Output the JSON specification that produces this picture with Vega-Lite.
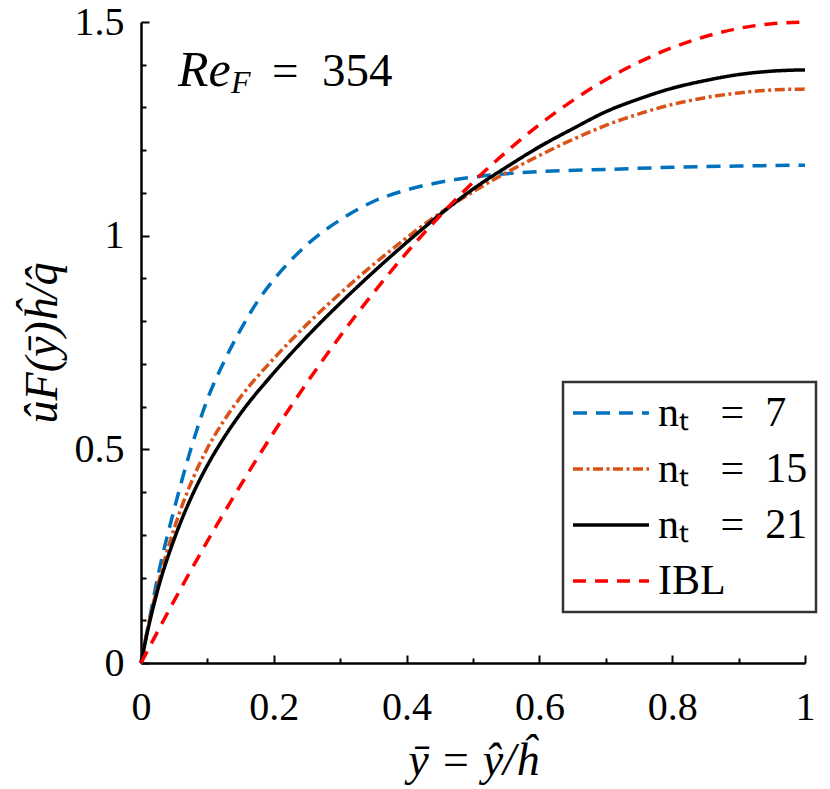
{
  "$schema": "https://vega.github.io/schema/vega-lite/v6.json",
  "width": 664,
  "height": 641,
  "autosize": {"type": "none"},
  "padding": {"left": 141, "top": 22, "right": 25, "bottom": 126},
  "background": "white",
  "config": {
    "view": {"stroke": null},
    "font": "Liberation Serif",
    "axis": {
      "grid": false,
      "domainColor": "black",
      "domainWidth": 2.5,
      "tickColor": "black",
      "tickWidth": 2,
      "labelFont": "Liberation Serif",
      "labelFontSize": 40,
      "labelColor": "black",
      "labelOverlap": false,
      "labelFlush": false,
      "titleFont": "Liberation Serif",
      "titleFontSize": 46,
      "titleFontStyle": "italic",
      "titleFontWeight": "normal",
      "titleColor": "black"
    },
    "legend": {
      "strokeColor": "#333333",
      "strokeWidth": 2.5,
      "fillColor": "white"
    }
  },
  "datasets": {
    "profiles": [
      {"series": "nₜ = 7", "ybar": 0, "u": 0},
      {"series": "nₜ = 7", "ybar": 0.01, "u": 0.08},
      {"series": "nₜ = 7", "ybar": 0.025, "u": 0.2},
      {"series": "nₜ = 7", "ybar": 0.05, "u": 0.36},
      {"series": "nₜ = 7", "ybar": 0.075, "u": 0.5},
      {"series": "nₜ = 7", "ybar": 0.1, "u": 0.617},
      {"series": "nₜ = 7", "ybar": 0.125, "u": 0.705},
      {"series": "nₜ = 7", "ybar": 0.15, "u": 0.78},
      {"series": "nₜ = 7", "ybar": 0.175, "u": 0.845},
      {"series": "nₜ = 7", "ybar": 0.2, "u": 0.897},
      {"series": "nₜ = 7", "ybar": 0.25, "u": 0.979},
      {"series": "nₜ = 7", "ybar": 0.3, "u": 1.037},
      {"series": "nₜ = 7", "ybar": 0.35, "u": 1.08},
      {"series": "nₜ = 7", "ybar": 0.4, "u": 1.107},
      {"series": "nₜ = 7", "ybar": 0.45, "u": 1.125},
      {"series": "nₜ = 7", "ybar": 0.5, "u": 1.137},
      {"series": "nₜ = 7", "ybar": 0.55, "u": 1.145},
      {"series": "nₜ = 7", "ybar": 0.6, "u": 1.15},
      {"series": "nₜ = 7", "ybar": 0.7, "u": 1.155},
      {"series": "nₜ = 7", "ybar": 0.8, "u": 1.16},
      {"series": "nₜ = 7", "ybar": 0.9, "u": 1.163},
      {"series": "nₜ = 7", "ybar": 1, "u": 1.165},
      {"series": "nₜ = 15", "ybar": 0, "u": 0},
      {"series": "nₜ = 15", "ybar": 0.01, "u": 0.08},
      {"series": "nₜ = 15", "ybar": 0.025, "u": 0.18},
      {"series": "nₜ = 15", "ybar": 0.05, "u": 0.315},
      {"series": "nₜ = 15", "ybar": 0.075, "u": 0.42},
      {"series": "nₜ = 15", "ybar": 0.1, "u": 0.5025},
      {"series": "nₜ = 15", "ybar": 0.125, "u": 0.5675},
      {"series": "nₜ = 15", "ybar": 0.15, "u": 0.6225},
      {"series": "nₜ = 15", "ybar": 0.2, "u": 0.7125},
      {"series": "nₜ = 15", "ybar": 0.25, "u": 0.7925},
      {"series": "nₜ = 15", "ybar": 0.3, "u": 0.865},
      {"series": "nₜ = 15", "ybar": 0.35, "u": 0.9325},
      {"series": "nₜ = 15", "ybar": 0.4, "u": 0.995},
      {"series": "nₜ = 15", "ybar": 0.45, "u": 1.0525},
      {"series": "nₜ = 15", "ybar": 0.5, "u": 1.1025},
      {"series": "nₜ = 15", "ybar": 0.55, "u": 1.1475},
      {"series": "nₜ = 15", "ybar": 0.6, "u": 1.1875},
      {"series": "nₜ = 15", "ybar": 0.65, "u": 1.225},
      {"series": "nₜ = 15", "ybar": 0.7, "u": 1.258},
      {"series": "nₜ = 15", "ybar": 0.75, "u": 1.285},
      {"series": "nₜ = 15", "ybar": 0.8, "u": 1.307},
      {"series": "nₜ = 15", "ybar": 0.85, "u": 1.323},
      {"series": "nₜ = 15", "ybar": 0.9, "u": 1.334},
      {"series": "nₜ = 15", "ybar": 0.95, "u": 1.341},
      {"series": "nₜ = 15", "ybar": 1, "u": 1.343},
      {"series": "nₜ = 21", "ybar": 0, "u": 0},
      {"series": "nₜ = 21", "ybar": 0.01, "u": 0.075},
      {"series": "nₜ = 21", "ybar": 0.025, "u": 0.17},
      {"series": "nₜ = 21", "ybar": 0.05, "u": 0.29},
      {"series": "nₜ = 21", "ybar": 0.075, "u": 0.385},
      {"series": "nₜ = 21", "ybar": 0.1, "u": 0.4625},
      {"series": "nₜ = 21", "ybar": 0.125, "u": 0.5275},
      {"series": "nₜ = 21", "ybar": 0.15, "u": 0.584},
      {"series": "nₜ = 21", "ybar": 0.2, "u": 0.679},
      {"series": "nₜ = 21", "ybar": 0.25, "u": 0.764},
      {"series": "nₜ = 21", "ybar": 0.3, "u": 0.842},
      {"series": "nₜ = 21", "ybar": 0.35, "u": 0.915},
      {"series": "nₜ = 21", "ybar": 0.4, "u": 0.984},
      {"series": "nₜ = 21", "ybar": 0.45, "u": 1.049},
      {"series": "nₜ = 21", "ybar": 0.5, "u": 1.109},
      {"series": "nₜ = 21", "ybar": 0.55, "u": 1.16},
      {"series": "nₜ = 21", "ybar": 0.6, "u": 1.208},
      {"series": "nₜ = 21", "ybar": 0.65, "u": 1.25},
      {"series": "nₜ = 21", "ybar": 0.7, "u": 1.29},
      {"series": "nₜ = 21", "ybar": 0.75, "u": 1.32},
      {"series": "nₜ = 21", "ybar": 0.8, "u": 1.345},
      {"series": "nₜ = 21", "ybar": 0.85, "u": 1.363},
      {"series": "nₜ = 21", "ybar": 0.9, "u": 1.377},
      {"series": "nₜ = 21", "ybar": 0.95, "u": 1.385},
      {"series": "nₜ = 21", "ybar": 1, "u": 1.388},
      {"series": "IBL", "ybar": 0, "u": 0},
      {"series": "IBL", "ybar": 0.05, "u": 0.146},
      {"series": "IBL", "ybar": 0.1, "u": 0.285},
      {"series": "IBL", "ybar": 0.15, "u": 0.416},
      {"series": "IBL", "ybar": 0.2, "u": 0.54},
      {"series": "IBL", "ybar": 0.25, "u": 0.656},
      {"series": "IBL", "ybar": 0.3, "u": 0.765},
      {"series": "IBL", "ybar": 0.35, "u": 0.866},
      {"series": "IBL", "ybar": 0.4, "u": 0.96},
      {"series": "IBL", "ybar": 0.45, "u": 1.046},
      {"series": "IBL", "ybar": 0.5, "u": 1.125},
      {"series": "IBL", "ybar": 0.55, "u": 1.196},
      {"series": "IBL", "ybar": 0.6, "u": 1.26},
      {"series": "IBL", "ybar": 0.65, "u": 1.316},
      {"series": "IBL", "ybar": 0.7, "u": 1.365},
      {"series": "IBL", "ybar": 0.75, "u": 1.406},
      {"series": "IBL", "ybar": 0.8, "u": 1.44},
      {"series": "IBL", "ybar": 0.85, "u": 1.466},
      {"series": "IBL", "ybar": 0.9, "u": 1.485},
      {"series": "IBL", "ybar": 0.95, "u": 1.496},
      {"series": "IBL", "ybar": 1, "u": 1.5}
    ],
    "note": [{"ybar": 0.0557, "u": 1.35}]
  },
  "layer": [
    {
      "data": {"name": "profiles"},
      "mark": {"type": "line", "strokeWidth": 3.5, "interpolate": "monotone"},
      "encoding": {
        "x": {
          "field": "ybar",
          "type": "quantitative",
          "scale": {"domain": [0, 1], "nice": false},
          "axis": {
            "title": "ȳ = ŷ/ĥ",
            "values": [0, 0.05, 0.1, 0.15, 0.2, 0.25, 0.3, 0.35, 0.4, 0.45, 0.5, 0.55, 0.6, 0.65, 0.7, 0.75, 0.8, 0.85, 0.9, 0.95, 1],
            "labelExpr": "round(datum.value * 20) % 4 == 0 ? format(datum.value, '~g') : ''",
            "tickSize": {"condition": {"test": "round(datum.value * 20) % 4 == 0", "value": -8}, "value": -5},
            "labelPadding": 32,
            "titlePadding": 8
          }
        },
        "y": {
          "field": "u",
          "type": "quantitative",
          "scale": {"domain": [0, 1.5], "nice": false},
          "axis": {
            "title": "ûF(ȳ)ĥ/q̂",
            "values": [0, 0.1, 0.2, 0.3, 0.4, 0.5, 0.6, 0.7, 0.8, 0.9, 1, 1.1, 1.2, 1.3, 1.4, 1.5],
            "labelExpr": "round(datum.value * 10) % 5 == 0 ? format(datum.value, '~g') : ''",
            "tickSize": {"condition": {"test": "round(datum.value * 10) % 5 == 0", "value": -8}, "value": -5},
            "labelPadding": 25,
            "titlePadding": 8
          }
        },
        "color": {
          "field": "series",
          "type": "nominal",
          "scale": {
            "domain": ["nₜ = 7", "nₜ = 15", "nₜ = 21", "IBL"],
            "range": ["#0072BD", "#D95319", "#000000", "#FF0000"]
          },
          "legend": {
            "title": null,
            "orient": "none",
            "legendX": 422,
            "legendY": 360,
            "padding": 8,
            "symbolType": "stroke",
            "symbolSize": 5776,
            "symbolStrokeWidth": 3.5,
            "clipHeight": 46,
            "rowPadding": 10,
            "labelOffset": 7,
            "labelFont": "Liberation Serif",
            "labelFontSize": 42,
            "labelColor": "black",
            "labelLimit": 400,
            "labelExpr": "replace(datum.label, / = /, '\u2002 =\u2002')"
          }
        },
        "strokeDash": {
          "field": "series",
          "type": "nominal",
          "scale": {
            "domain": ["nₜ = 7", "nₜ = 15", "nₜ = 21", "IBL"],
            "range": [[14, 9], [10, 3.5, 3, 3.5], [1, 0], [13, 9]]
          },
          "legend": {"title": null}
        }
      }
    },
    {
      "data": {"name": "note"},
      "mark": {"type": "text", "text": "Re", "font": "Liberation Serif", "fontStyle": "italic", "fontSize": 50, "align": "left", "baseline": "alphabetic", "color": "black"},
      "encoding": {
        "x": {"field": "ybar", "type": "quantitative"},
        "y": {"field": "u", "type": "quantitative"}
      }
    },
    {
      "data": {"name": "note"},
      "mark": {"type": "text", "text": "F", "font": "Liberation Serif", "fontStyle": "italic", "fontSize": 32, "align": "left", "baseline": "alphabetic", "dx": 53, "dy": 7, "color": "black"},
      "encoding": {
        "x": {"field": "ybar", "type": "quantitative"},
        "y": {"field": "u", "type": "quantitative"}
      }
    },
    {
      "data": {"name": "note"},
      "mark": {"type": "text", "text": "=\u2002354", "font": "Liberation Serif", "fontSize": 47, "align": "left", "baseline": "alphabetic", "dx": 94, "color": "black"},
      "encoding": {
        "x": {"field": "ybar", "type": "quantitative"},
        "y": {"field": "u", "type": "quantitative"}
      }
    }
  ]
}
